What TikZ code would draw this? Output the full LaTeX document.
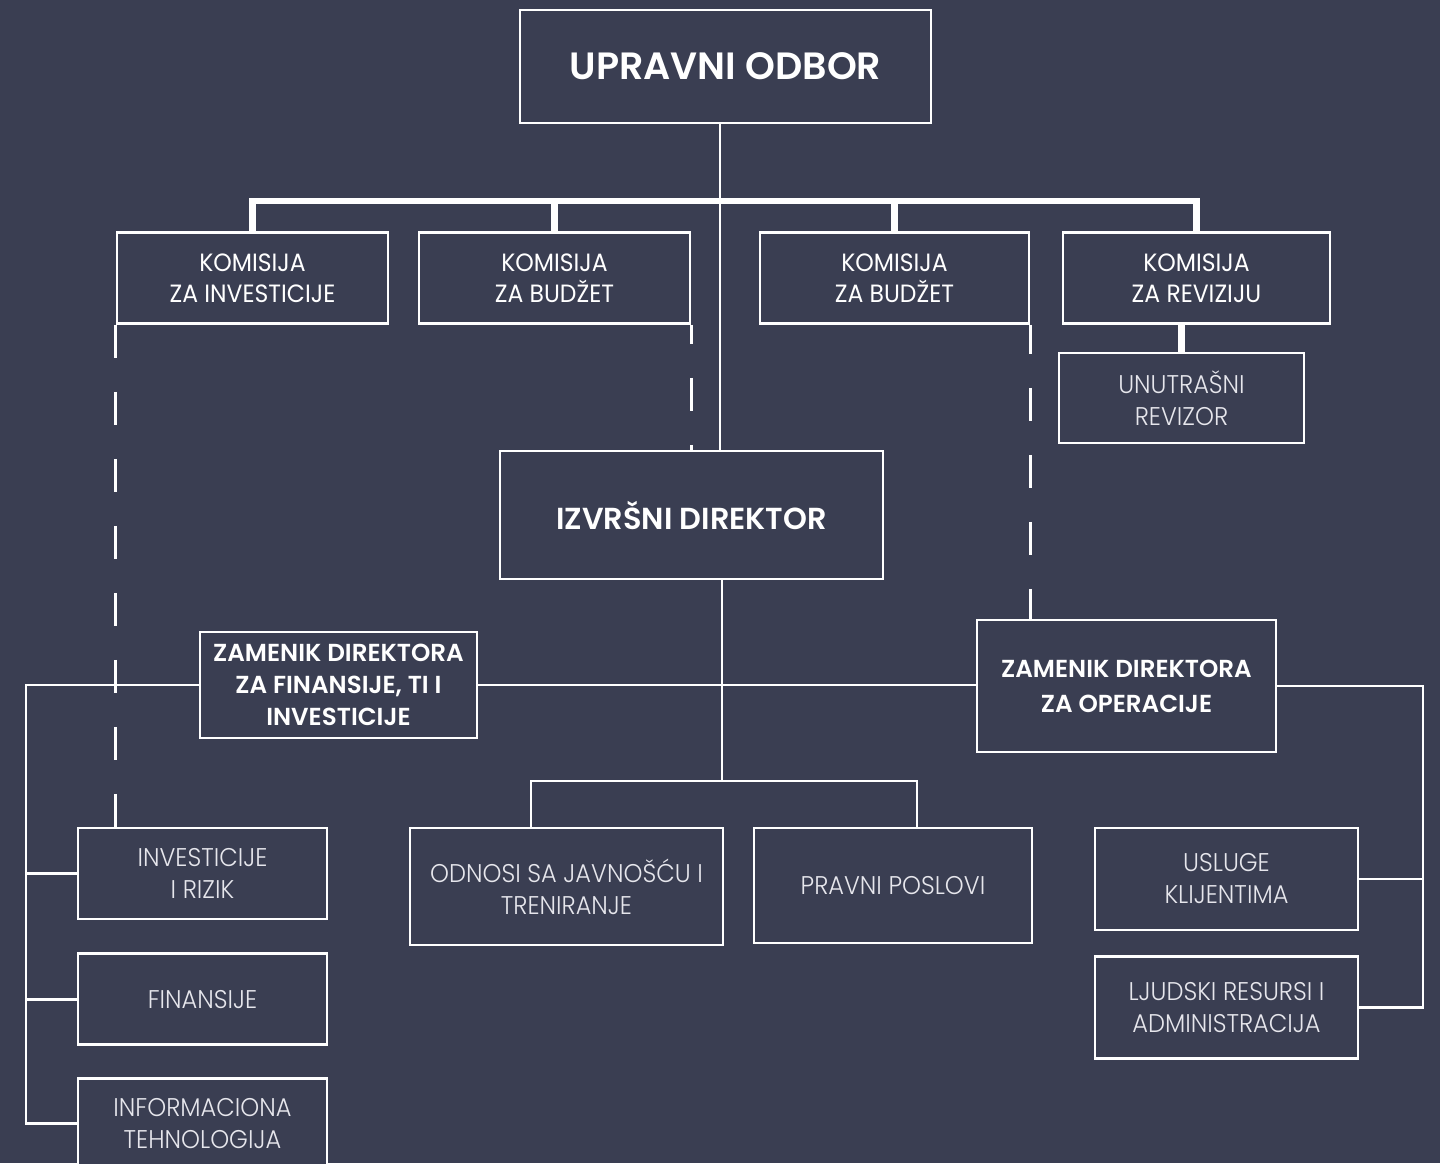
\documentclass[tikz,border=0pt]{standalone}
\usepackage{fontspec}
\setmainfont{Poppins}
\newfontfamily\headfont{Poppins}[BoldFont={* SemiBold}]
\newfontfamily\komfont{Poppins}[FakeStretch=0.94]
\newfontfamily\thinfont{Poppins}[UprightFont={* Light},FakeStretch=0.94]
\usetikzlibrary{positioning}
\definecolor{boardbg}{HTML}{3A3E52}
\definecolor{thingray}{HTML}{E6E6EC}

\begin{document}
\begin{tikzpicture}[
    x=0.5pt,y=-0.5pt,
    node distance=16pt,
    every node/.style={align=center,inner sep=0pt,text=white},
    box/.style={rectangle,draw=white,fill=boardbg,line width=1.3pt},
    title/.style={box,font=\headfont\bfseries\fontsize{19}{22}\selectfont},
    chief/.style={box,font=\headfont\bfseries\fontsize{15.2}{19}\selectfont},
    deputy/.style={box,font=\headfont\bfseries\fontsize{12.3}{16}\selectfont},
    committee/.style={box,minimum width=135.5pt,minimum height=45.5pt,font=\komfont\fontsize{12.5}{15.5}\selectfont},
    unit/.style={box,text=thingray,font=\thinfont\fontsize{12.8}{16}\selectfont},
    link/.style={draw=white,line width=1.4pt},
    bus/.style={draw=white,line width=3.2pt},
    dashlink/.style={link,dash pattern=on 16.5pt off 17pt}
]

\fill[boardbg] (0,0) rectangle (1440,1163);
\useasboundingbox (0,0) rectangle (1440,1163);

% =====================
% BOARD
% =====================
\node[title,minimum width=205.5pt,minimum height=56.5pt] (board) at (725.5,66.5) {UPRAVNI ODBOR};

% =====================
% COMMITTEES
% =====================
\node[committee] (kominv) at (252.5,278) {KOMISIJA\\ZA INVESTICIJE};
\node[committee] (kombud1) at (554.5,278) {KOMISIJA\\ZA BUDŽET};
\node[committee,minimum width=134.5pt] (kombud2) at (894.5,278) {KOMISIJA\\ZA BUDŽET};
\node[committee,minimum width=133.5pt] (komrev) at (1196.5,278) {KOMISIJA\\ZA REVIZIJU};

\node[unit,minimum width=122.5pt,minimum height=45pt] (revizor) at (1181.5,398) {UNUTRAŠNI\\REVIZOR};

% =====================
% MANAGEMENT
% =====================
\node[chief,minimum width=191.5pt,minimum height=64pt] (ceo) at (691.5,515) {IZVRŠNI DIREKTOR};

\node[deputy,minimum width=138.5pt,minimum height=53pt] (zamfin) at (338.5,685) {ZAMENIK DIREKTORA\\ZA FINANSIJE, TI I\\INVESTICIJE};
\node[deputy,minimum width=149.5pt,minimum height=66pt,font=\headfont\bfseries\fontsize{12.3}{17.5}\selectfont] (zamop) at (1126.5,686) {ZAMENIK DIREKTORA\\ZA OPERACIJE};

% =====================
% UNITS
% =====================
\node[unit,minimum width=124.5pt,minimum height=45.5pt] (invest) at (202.5,873.5) {INVESTICIJE\\I RIZIK};
\node[unit,minimum width=124.5pt,minimum height=45.5pt,below=16pt of invest] (finans) {FINANSIJE};
\node[unit,minimum width=124.5pt,minimum height=45.5pt,below=15.5pt of finans] (infotech) {INFORMACIONA\\TEHNOLOGIJA};

\node[unit,minimum width=156.5pt,minimum height=58.5pt] (odnosi) at (566.5,886.5) {ODNOSI SA JAVNOŠĆU I\\TRENIRANJE};
\node[unit,minimum width=139pt,minimum height=57.5pt] (pravni) at (893,885.5) {PRAVNI POSLOVI};

\node[unit,minimum width=131.5pt,minimum height=51pt] (usluge) at (1226.5,879) {USLUGE\\KLIJENTIMA};
\node[unit,minimum width=131.5pt,minimum height=51pt,below=12pt of usluge] (ljudski) {LJUDSKI RESURSI I\\ADMINISTRACIJA};

% junction points
\coordinate (trunk) at (720,201);
\coordinate (stem) at (722,781);
\coordinate (odL) at (531,781);
\coordinate (odR) at (917,781);
\coordinate (lspine) at (26,683);
\coordinate (rspine) at (1423,681);

% =====================
% CONNECTIONS
% =====================
\draw[link] (board.south -| trunk) -- (ceo.north -| trunk);
\draw[bus] (kominv.north) |- (trunk) -| (komrev.north);
\draw[bus] (kombud1.north) -- (kombud1.north |- trunk);
\draw[bus] (kombud2.north) -- (kombud2.north |- trunk);
\draw[bus] (komrev.south -| revizor.north) -- (revizor.north);

\draw[dashlink] (kominv.south west) -- (invest.north -| kominv.south west);
\draw[dashlink,dash phase=7pt] (kombud1.south east) -- (ceo.north -| kombud1.south east);
\draw[dashlink,dash phase=2pt] (kombud2.south east) -- (zamop.north -| kombud2.south east);

\draw[link] (ceo.south -| stem) -- (stem);
\draw[link] (zamfin.east) -- (zamfin.east -| zamop.west);
\draw[link] (odnosi.north -| odL) -- (odL) -- (odR) -- (pravni.north -| odR);

\draw[link] (zamfin.west) -| (infotech.west -| lspine) -- (infotech.west);
\draw[link] (invest.west -| lspine) -- (invest.west);
\draw[link] (finans.west -| lspine) -- (finans.west);

\draw[link] (zamop.east) -| (ljudski.east -| rspine) -- (ljudski.east);
\draw[link] (usluge.east -| rspine) -- (usluge.east);

\end{tikzpicture}
\end{document}
